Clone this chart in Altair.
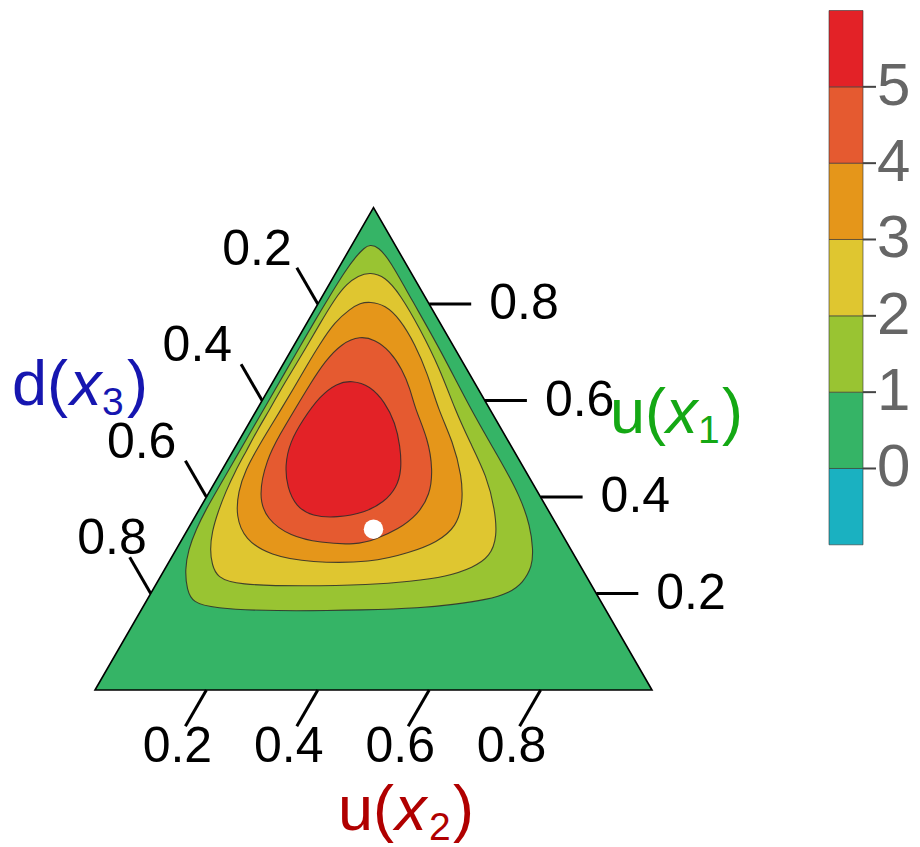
import altair as alt
import pandas as pd

SQ3 = 3 ** 0.5 / 2

# ---------------- values ----------------
tick_values = [0.2, 0.4, 0.6, 0.8]
tick_labels = ["0.2", "0.4", "0.6", "0.8"]

# contour boundaries in ternary coordinates (x1 = u(x1), x2 = u(x2), x3 = 1 - x1 - x2)
lvl1_x1 = [0.923, 0.919, 0.890, 0.811, 0.707, 0.576, 0.478, 0.401, 0.339, 0.291, 0.256, 0.222,
           0.202, 0.187, 0.177, 0.170, 0.166, 0.163, 0.170, 0.181, 0.208, 0.249, 0.291, 0.333,
           0.374, 0.424, 0.478, 0.532, 0.593, 0.657, 0.711, 0.763, 0.819, 0.869, 0.898, 0.917]
lvl1_x2 = [0.032, 0.049, 0.085, 0.162, 0.266, 0.389, 0.488, 0.563, 0.612, 0.641, 0.657, 0.657,
           0.644, 0.610, 0.554, 0.498, 0.411, 0.233, 0.127, 0.085, 0.061, 0.037, 0.022, 0.015,
           0.012, 0.012, 0.012, 0.012, 0.012, 0.012, 0.012, 0.012, 0.013, 0.015, 0.019, 0.025]

lvl2_x1 = [0.866, 0.857, 0.821, 0.748, 0.665, 0.582, 0.514, 0.443, 0.374, 0.318, 0.277, 0.254,
           0.235, 0.225, 0.218, 0.215, 0.218, 0.233, 0.260, 0.291, 0.328, 0.370, 0.412, 0.453,
           0.495, 0.541, 0.582, 0.620, 0.661, 0.707, 0.759, 0.811, 0.842, 0.859]
lvl2_x2 = [0.061, 0.092, 0.137, 0.210, 0.287, 0.355, 0.416, 0.482, 0.531, 0.563, 0.571, 0.552,
           0.514, 0.453, 0.385, 0.266, 0.146, 0.103, 0.080, 0.061, 0.046, 0.036, 0.029, 0.025,
           0.024, 0.022, 0.023, 0.022, 0.023, 0.024, 0.024, 0.025, 0.031, 0.043]

lvl3_x1 = [0.805, 0.798, 0.769, 0.717, 0.655, 0.582, 0.514, 0.443, 0.389, 0.339, 0.306, 0.285,
           0.264, 0.264, 0.279, 0.312, 0.360, 0.412, 0.457, 0.503, 0.545, 0.582, 0.624, 0.669,
           0.717, 0.763, 0.790, 0.802]
lvl3_x2 = [0.091, 0.122, 0.163, 0.216, 0.270, 0.325, 0.386, 0.437, 0.466, 0.480, 0.461, 0.423,
           0.365, 0.254, 0.175, 0.113, 0.073, 0.051, 0.042, 0.041, 0.042, 0.043, 0.044, 0.044,
           0.045, 0.049, 0.063, 0.075]

lvl4_x1 = [0.734, 0.726, 0.703, 0.665, 0.624, 0.582, 0.520, 0.457, 0.405, 0.364, 0.333, 0.312,
           0.301, 0.305, 0.319, 0.353, 0.402, 0.478, 0.530, 0.582, 0.634, 0.682, 0.719]
lvl4_x2 = [0.109, 0.140, 0.178, 0.219, 0.254, 0.284, 0.338, 0.378, 0.399, 0.398, 0.378, 0.347,
           0.319, 0.251, 0.191, 0.132, 0.092, 0.069, 0.067, 0.068, 0.069, 0.072, 0.084]

lvl5_x1 = [0.642, 0.631, 0.596, 0.554, 0.506, 0.457, 0.420, 0.389, 0.368, 0.357, 0.360, 0.380,
           0.420, 0.466, 0.514, 0.561, 0.609, 0.636]
lvl5_x2 = [0.140, 0.178, 0.223, 0.262, 0.295, 0.322, 0.332, 0.324, 0.301, 0.256, 0.210, 0.171,
           0.135, 0.108, 0.093, 0.093, 0.099, 0.116]

point_x1 = [1 / 3]
point_x2 = [1 / 3]

band_lo = [-1, 0, 1, 2, 3, 4, 5]
band_hi = [0, 1, 2, 3, 4, 5, 6]
band_colors = ["#1ab1c1", "#35b466", "#99c432", "#dfc630", "#e5961a", "#e55a30", "#e32227"]
cbar_ticks = [0, 1, 2, 3, 4, 5]

# ---------------- layout ----------------
W, H = 904, 839
PX = 557.0            # pixels per ternary unit
X0, Y0 = 87.0, 682.0  # view position of the bottom-left vertex
xs = alt.Scale(domain=[-X0 / PX, (W - X0) / PX], nice=False, zero=False)
ys = alt.Scale(domain=[(Y0 - H) / PX, Y0 / PX], nice=False, zero=False)
CPX = 76.33
ctop = 6 + 2.5 / CPX
cs = alt.Scale(domain=[ctop - H / CPX, ctop], nice=False, zero=False)

FONT = "Liberation Sans"
CALC = dict(X="datum.x2 + datum.x1 / 2", Y="datum.x1 * sqrt(3) / 2")


def tern(df):
    return alt.Chart(df).transform_calculate(**CALC)


def xy():
    return dict(x=alt.X("X:Q", scale=xs, axis=None), y=alt.Y("Y:Q", scale=ys, axis=None))


layers = []

# triangle (level 0 region)
tri = pd.DataFrame({"x1": [0.0, 0.0, 1.0], "x2": [0.0, 1.0, 0.0], "idx": [0, 1, 2]})
layers.append(tern(tri).mark_line(interpolate="linear-closed", filled=True, fill=band_colors[1],
                                  stroke="black", strokeWidth=1.6).encode(order="idx:Q", **xy()))

contours = [(lvl1_x1, lvl1_x2), (lvl2_x1, lvl2_x2), (lvl3_x1, lvl3_x2),
            (lvl4_x1, lvl4_x2), (lvl5_x1, lvl5_x2)]
for k, (a1, a2) in enumerate(contours):
    df = pd.DataFrame({"x1": a1, "x2": a2})
    df["idx"] = range(len(df))
    layers.append(tern(df).mark_line(interpolate="basis-closed", filled=True,
                                     fill=band_colors[k + 2], stroke="#2a2a2a",
                                     strokeWidth=1.1, strokeOpacity=0.85)
                  .encode(order="idx:Q", **xy()))

# ticks
L = 42 / PX
rows = []
left_shift = [4, 0, 0, 26]  # extra horizontal label shift on the d(x3) axis (px)
for i, (t, lab) in enumerate(zip(tick_values, tick_labels)):
    rows.append(dict(axis="x1", x1=t, x2=1 - t, lab=lab, sh=0))
    rows.append(dict(axis="x3", x1=1 - t, x2=0.0, lab=lab, sh=left_shift[i]))
    rows.append(dict(axis="x2", x1=0.0, x2=t, lab=lab, sh=0))
ticks = pd.DataFrame(rows)
dirs = {"x1": (1.0, 0.0), "x3": (-0.5, SQ3), "x2": (-0.5, -SQ3)}
offs = {"x1": (18, 0), "x3": (-9, 18), "x2": (-8, -21)}
ticks["X"] = ticks.x2 + ticks.x1 / 2
ticks["Y"] = ticks.x1 * SQ3
ticks["Xe"] = ticks.X + L * ticks.axis.map(lambda a: dirs[a][0])
ticks["Ye"] = ticks.Y + L * ticks.axis.map(lambda a: dirs[a][1])
ticks["Xl"] = ticks.Xe + (ticks.axis.map(lambda a: offs[a][0]) + ticks.sh) / PX
ticks["Yl"] = ticks.Ye + ticks.axis.map(lambda a: offs[a][1]) / PX

layers.append(alt.Chart(ticks).mark_rule(color="black", strokeWidth=3).encode(
    x=alt.X("X:Q", scale=xs, axis=None), y=alt.Y("Y:Q", scale=ys, axis=None),
    x2="Xe:Q", y2="Ye:Q"))
for axis, align in [("x1", "left"), ("x3", "right"), ("x2", "center")]:
    layers.append(alt.Chart(ticks[ticks.axis == axis]).mark_text(
        align=align, baseline="middle", font=FONT, fontSize=50, color="black").encode(
        x=alt.X("Xl:Q", scale=xs, axis=None), y=alt.Y("Yl:Q", scale=ys, axis=None), text="lab:N"))

# centre point
pt = pd.DataFrame({"x1": point_x1, "x2": point_x2})
layers.append(tern(pt).mark_circle(size=380, color="white", opacity=1).encode(**xy()))

# axis titles  d(x3), u(x1), u(x2)
one = pd.DataFrame({"a": [0]})


def piece(text, x, y, color, size=63, italic=False):
    return alt.Chart(one).mark_text(
        text=text, align="left", baseline="alphabetic", font=FONT, fontSize=size,
        fontStyle="italic" if italic else "normal", color=color).encode(
        x=alt.value(x), y=alt.value(y))


for (head, sub, base, x0, xx, xsub, xp, col) in [
    ("d(", "3", 397, 4, 62, 94, 119, "#1616b0"),
    ("u(", "1", 424.5, 602, 658, 690, 714, "#14a814"),
    ("u(", "2", 822, 330, 387, 421, 445, "#b00000"),
]:
    layers.append(piece(head, x0, base, col))
    layers.append(piece("x", xx, base, col, italic=True))
    layers.append(piece(sub, xsub, base + 10, col, size=39))
    layers.append(piece(")", xp, base, col))

# colour bar
bands = pd.DataFrame({"lo": band_lo, "hi": band_hi, "col": band_colors})
layers.append(alt.Chart(bands).mark_rect(stroke="#333333", strokeWidth=1, strokeOpacity=0.6).encode(
    x=alt.value(821), x2=alt.value(855),
    y=alt.Y("lo:Q", scale=cs, axis=None), y2="hi:Q",
    color=alt.Color("col:N", scale=None)))
cb = pd.DataFrame({"v": cbar_ticks, "t": [str(v) for v in cbar_ticks]})
layers.append(alt.Chart(cb).mark_rule(color="#444444", strokeWidth=2).encode(
    x=alt.value(855), x2=alt.value(868), y=alt.Y("v:Q", scale=cs, axis=None)))
layers.append(alt.Chart(cb).mark_text(align="left", baseline="middle", font=FONT, fontSize=60,
                                      color="#666666").encode(
    x=alt.value(869), y=alt.Y("v:Q", scale=cs, axis=None), text="t:N"))

chart = alt.layer(*layers).resolve_scale(y="independent").properties(
    width=W, height=H, padding=0, autosize=alt.AutoSizeParams(type="none")
).configure_view(stroke=None)

chart.save("out.html", embed_options={"renderer": "svg", "actions": False})
